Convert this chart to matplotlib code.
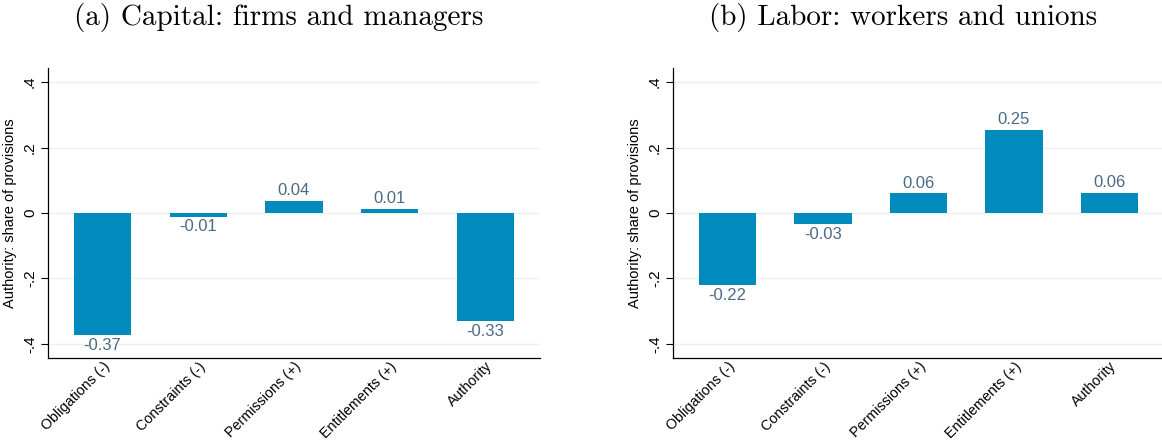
#!/usr/bin/env python3

import matplotlib
matplotlib.use('Agg')
from matplotlib.pyplot import figure

categories = ['Obligations (-)', 'Constraints (-)', 'Permissions (+)',
              'Entitlements (+)', 'Authority']
capital = [-0.372, -0.011, 0.038, 0.013, -0.330]
labor = [-0.220, -0.034, 0.060, 0.254, 0.061]
titles = ['(a) Capital: firms and managers', '(b) Labor: workers and unions']
yticks = [-0.4, -0.2, 0, 0.2, 0.4]
yticklabels = ['-.4', '-.2', '0', '.2', '.4']

BAR = '#008bbc'
LABEL = '#4b6a84'
GRID = '#e9f1f2'
SANS = ['Liberation Sans', 'DejaVu Sans']

W, H = 1162, 442
fig = figure(figsize=(W / 100, H / 100), dpi=100)


def panel(left, right, values, title, title_x):
    ax = fig.add_axes([left / W, (H - 358) / H, (right - left) / W, 290 / H])
    x = range(len(values))
    bars = ax.bar(x, values, width=0.6, color=BAR, zorder=2)
    ax.bar_label(bars, labels=['%.2f' % v for v in values], padding=2,
                 color=LABEL, fontsize=12, family=SANS)
    ax.set_xlim(-0.57, len(values) - 0.43)
    ax.set_ylim(-0.443, 0.443)
    ax.set_yticks(yticks)
    ax.set_yticklabels(yticklabels, rotation=90, va='center',
                       fontsize=11, family=SANS)
    ax.set_xticks(list(x))
    ax.set_xticklabels(categories, rotation=45, ha='right',
                       rotation_mode='anchor', fontsize=10.3, family=SANS)
    ax.tick_params(axis='x', length=0, pad=1)
    ax.tick_params(axis='y', length=5, width=0.8, pad=3)
    ax.grid(axis='y', color=GRID, linewidth=1, zorder=0)
    for s in ('top', 'right'):
        ax.spines[s].set_visible(False)
    for s in ('left', 'bottom'):
        ax.spines[s].set_linewidth(0.9)
    ax.set_ylabel('Authority: share of provisions', fontsize=10.5,
                  family=SANS, labelpad=4)
    fig.text(title_x / W, 1 - 18 / H, title, family='cmr10', fontsize=21,
             ha='center', va='center')
    return ax


panel(48, 540, capital, titles[0], 279)
panel(673, 1164, labor, titles[1], 903)

fig.savefig('out.png', dpi=100)
